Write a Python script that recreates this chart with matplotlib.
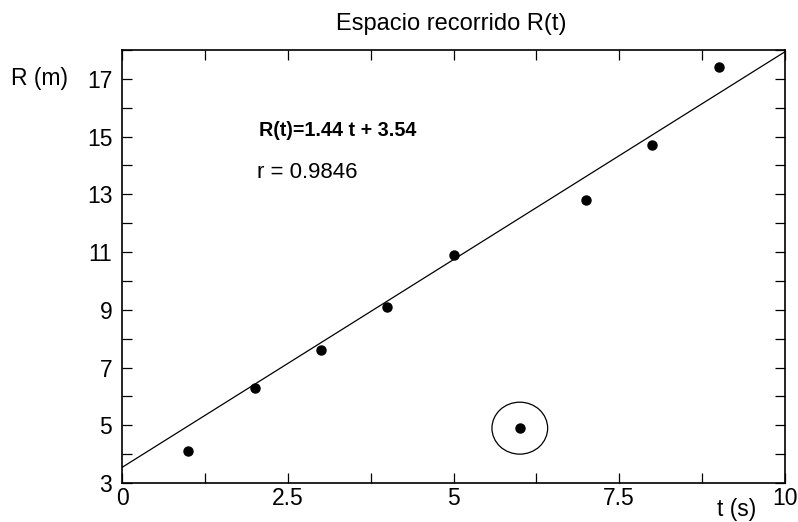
import matplotlib
matplotlib.use('Agg')
from matplotlib import pyplot as plt
from matplotlib.patches import Ellipse
from matplotlib.ticker import MultipleLocator, FixedLocator
import numpy as np

plt.rcParams['font.family'] = ['Liberation Sans', 'DejaVu Sans']

t = [1, 2, 3, 4, 5, 6, 7, 8, 9]
R = [4.1, 6.3, 7.6, 9.1, 10.9, 4.9, 12.8, 14.7, 17.4]
slope, intercept = 1.44, 3.54
outlier_t, outlier_R = 6, 4.9
xticks = [0, 2.5, 5, 7.5, 10]
xticklabels = ['0', '2.5', '5', '7.5', '10']
yticks = [3, 5, 7, 9, 11, 13, 15, 17]

fig = plt.figure(figsize=(7.98, 5.22), dpi=100)
ax = fig.add_axes([0.1529, 0.0747, 0.8308, 0.8295])

tl = np.array([0, 10])
ax.plot(tl, slope * tl + intercept, color='black', lw=0.9)
ax.plot(t, R, 'o', color='black', ms=6.5)
ax.add_patch(Ellipse((outlier_t, outlier_R), 0.84, 1.8, fill=False, ec='black', lw=0.9))

ax.set_xlim(0, 10)
ax.set_ylim(3, 18)
ax.xaxis.set_major_locator(FixedLocator(xticks))
ax.set_xticklabels(xticklabels)
ax.xaxis.set_minor_locator(MultipleLocator(1.25))
ax.yaxis.set_major_locator(FixedLocator(yticks))
ax.yaxis.set_minor_locator(MultipleLocator(1))
ax.tick_params(which='both', direction='in', top=True, right=True, length=7, width=0.9)
ax.tick_params(which='major', labelsize=16.5)
ax.tick_params(axis='x', which='major', pad=3)
ax.tick_params(axis='y', which='major', pad=7)
for s in ax.spines.values():
    s.set_linewidth(1.2)

ax.text(2.07, 15.2, 'R(t)=1.44 t + 3.54', fontsize=14.2, fontweight='bold', va='center')
ax.text(2.04, 13.76, 'r = 0.9846', fontsize=16, va='center')
fig.text(0.565, 0.954, 'Espacio recorrido R(t)', fontsize=17, ha='center', va='center')
fig.text(0.05, 0.849, 'R (m)', fontsize=16.5, ha='center', va='center')
fig.text(0.923, 0.024, 't (s)', fontsize=16.5, ha='center', va='center')

plt.savefig('out.png', dpi=100)
